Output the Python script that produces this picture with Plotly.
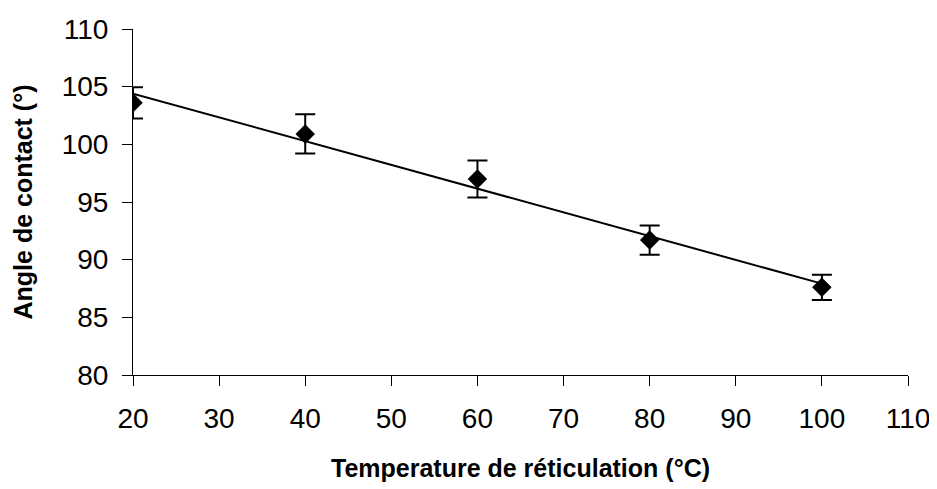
import numpy as np
import plotly.graph_objects as go

temperature = [20, 40, 60, 80, 100]
angle = [103.6, 100.9, 97.0, 91.7, 87.6]
angle_err = [1.35, 1.7, 1.6, 1.27, 1.1]
x_ticks = [20, 30, 40, 50, 60, 70, 80, 90, 100, 110]
y_ticks = [80, 85, 90, 95, 100, 105, 110]

slope, intercept = np.polyfit(temperature, angle, 1)
fit_x = [temperature[0], temperature[-1]]
fit_y = [slope * v + intercept for v in fit_x]

fig = go.Figure()
fig.add_trace(go.Scatter(
    x=fit_x, y=fit_y, mode="lines",
    line=dict(color="black", width=2), showlegend=False, hoverinfo="skip"))
fig.add_trace(go.Scatter(
    x=temperature, y=angle, mode="markers",
    marker=dict(symbol="diamond", size=15, color="black"),
    error_y=dict(type="data", array=angle_err, visible=True,
                 color="black", thickness=2, width=10),
    showlegend=False))

FONT = "Arial, Liberation Sans, sans-serif"
axis_common = dict(
    showline=True, linecolor="black", linewidth=1,
    ticks="outside", ticklen=10, tickcolor="black", tickwidth=1,
    showgrid=False, zeroline=False, automargin=False,
    ticklabelstandoff=8,
    tickfont=dict(family=FONT, size=28, color="black"),
)

fig.update_layout(
    width=929, height=481,
    paper_bgcolor="white", plot_bgcolor="white",
    margin=dict(l=125, r=29, t=21, b=114),
    xaxis=dict(range=[20, 110], tickvals=x_ticks,
               title=dict(text="<b>Temperature de réticulation (°C)</b>",
                          font=dict(family=FONT, size=25, color="black"),
                          standoff=26),
               **axis_common),
    yaxis=dict(range=[80, 110], tickvals=y_ticks,
               title=dict(text="<b>Angle de contact (°)</b>",
                          font=dict(family=FONT, size=25, color="black"),
                          standoff=21),
               **axis_common),
)

fig.write_html("out.html")
